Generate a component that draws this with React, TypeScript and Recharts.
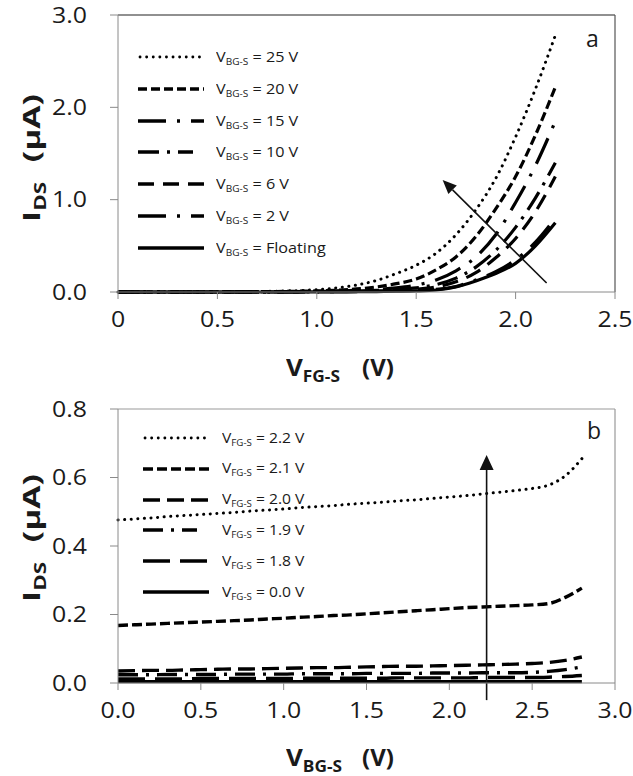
import { Line, LineChart, ReferenceLine, XAxis, YAxis } from "recharts"

// panel a: I_DS vs V_FG-S for several back-gate biases
const vfg = [0, 0.1, 0.2, 0.3, 0.4, 0.5, 0.6, 0.7, 0.8, 0.9, 1.0, 1.1, 1.2, 1.3, 1.4, 1.5, 1.6, 1.7, 1.8, 1.9, 2.0, 2.1, 2.2]
const bg25 = [0, 0, 0, 0, 0.001, 0.002, 0.003, 0.005, 0.009, 0.015, 0.025, 0.045, 0.075, 0.125, 0.2, 0.29, 0.42, 0.62, 0.89, 1.23, 1.68, 2.2, 2.78]
const bg20 = [0, 0, 0, 0, 0, 0.001, 0.002, 0.003, 0.005, 0.008, 0.012, 0.02, 0.033, 0.055, 0.09, 0.14, 0.24, 0.38, 0.6, 0.9, 1.25, 1.7, 2.22]
const bg15 = [0, 0, 0, 0, 0, 0, 0.001, 0.002, 0.003, 0.005, 0.008, 0.012, 0.018, 0.028, 0.045, 0.075, 0.13, 0.23, 0.38, 0.62, 0.97, 1.37, 1.85]
const bg10 = [0, 0, 0, 0, 0, 0, 0, 0.001, 0.002, 0.003, 0.005, 0.008, 0.012, 0.018, 0.028, 0.045, 0.08, 0.15, 0.27, 0.45, 0.7, 1.02, 1.4]
const bg6 = [0, 0, 0, 0, 0, 0, 0, 0, 0.001, 0.002, 0.003, 0.005, 0.008, 0.012, 0.018, 0.03, 0.055, 0.11, 0.21, 0.37, 0.58, 0.87, 1.25]
const bg2 = [0, 0, 0, 0, 0, 0, 0, 0, 0, 0.001, 0.002, 0.003, 0.005, 0.008, 0.012, 0.018, 0.028, 0.06, 0.13, 0.22, 0.35, 0.54, 0.8]
const bgFloat = [0, 0, 0, 0, 0, 0, 0, 0, 0, 0, 0.001, 0.002, 0.003, 0.005, 0.008, 0.012, 0.022, 0.055, 0.12, 0.2, 0.31, 0.5, 0.75]
const aLabels = ["25 V", "20 V", "15 V", "10 V", "6 V", "2 V", "Floating"]
const aXTicks = [0, 0.5, 1, 1.5, 2, 2.5]
const aYTicks = [0, 1, 2, 3]

// panel b: I_DS vs V_BG-S for several front-gate biases
const vbg = [0, 0.1, 0.2, 0.3, 0.4, 0.5, 0.6, 0.7, 0.8, 0.9, 1.0, 1.1, 1.2, 1.3, 1.4, 1.5, 1.6, 1.7, 1.8, 1.9, 2.0, 2.1, 2.2, 2.3, 2.4, 2.5, 2.6, 2.7, 2.8]
const fg22 = [0.476, 0.479, 0.482, 0.486, 0.489, 0.492, 0.495, 0.498, 0.502, 0.505, 0.508, 0.512, 0.515, 0.518, 0.522, 0.525, 0.528, 0.532, 0.535, 0.539, 0.543, 0.547, 0.552, 0.557, 0.562, 0.568, 0.578, 0.605, 0.655]
const fg21 = [0.168, 0.17, 0.172, 0.174, 0.176, 0.178, 0.18, 0.182, 0.184, 0.187, 0.189, 0.192, 0.194, 0.197, 0.199, 0.202, 0.205, 0.208, 0.211, 0.214, 0.217, 0.22, 0.222, 0.224, 0.226, 0.228, 0.232, 0.25, 0.277]
const fg20 = [0.035, 0.036, 0.037, 0.037, 0.038, 0.039, 0.04, 0.041, 0.041, 0.042, 0.043, 0.044, 0.045, 0.045, 0.046, 0.047, 0.048, 0.049, 0.049, 0.05, 0.051, 0.052, 0.053, 0.054, 0.055, 0.057, 0.06, 0.066, 0.076]
const fg19 = [0.024, 0.024, 0.024, 0.025, 0.025, 0.025, 0.025, 0.026, 0.026, 0.026, 0.026, 0.027, 0.027, 0.027, 0.027, 0.028, 0.028, 0.028, 0.028, 0.029, 0.029, 0.029, 0.03, 0.03, 0.03, 0.031, 0.034, 0.039, 0.047]
const fg18 = [0.012, 0.012, 0.012, 0.012, 0.012, 0.013, 0.013, 0.013, 0.013, 0.013, 0.013, 0.014, 0.014, 0.014, 0.014, 0.014, 0.014, 0.015, 0.015, 0.015, 0.015, 0.015, 0.016, 0.016, 0.016, 0.016, 0.017, 0.019, 0.022]
const fg00 = [0.004, 0.004, 0.004, 0.004, 0.004, 0.004, 0.004, 0.004, 0.004, 0.004, 0.004, 0.004, 0.004, 0.004, 0.004, 0.004, 0.004, 0.004, 0.004, 0.004, 0.004, 0.004, 0.004, 0.004, 0.004, 0.004, 0.004, 0.004, 0.004]
const bLabels = ["2.2 V", "2.1 V", "2.0 V", "1.9 V", "1.8 V", "0.0 V"]
const bXTicks = [0, 0.5, 1, 1.5, 2, 2.5, 3]
const bYTicks = [0, 0.2, 0.4, 0.6, 0.8]

const dataA = vfg.map((x, i) => ({
  x, s0: bg25[i], s1: bg20[i], s2: bg15[i], s3: bg10[i], s4: bg6[i], s5: bg2[i], s6: bgFloat[i],
}))
const dataB = vbg.map((x, i) => ({
  x, s0: fg22[i], s1: fg21[i], s2: fg20[i], s3: fg19[i], s4: fg18[i], s5: fg00[i],
}))

// line styles
const DOT = "0.1 6.5"
const aDash = [DOT, "9 4", "28 11 3 11", "21 8 3 8", "16 9", "28 11 3 11", undefined]
const bDash = [DOT, "10 4", "17 7", "20 8 3 8", "27 10", undefined]
const aSampleW = [66, 66, 66, 55, 66, 66, 66]

const FONT = "'Open Sans', 'Noto Sans', sans-serif"
const INK = "#1a1a1a"
const AXIS = "#8a8a8a"

function Arrow(props: any) {
  const { x1, y1, x2, y2, headLen = 14, headHalf = 6 } = props
  const ang = Math.atan2(y2 - y1, x2 - x1)
  const c = Math.cos(ang)
  const s = Math.sin(ang)
  const bx = x2 - headLen * c
  const by = y2 - headLen * s
  const pts = [
    [x2, y2],
    [bx + headHalf * s, by - headHalf * c],
    [bx - headHalf * s, by + headHalf * c],
  ]
  return (
    <g>
      <line x1={x1} y1={y1} x2={bx} y2={by} stroke="#111" strokeWidth={1.6} />
      <polygon points={pts.map((p) => p.join(",")).join(" ")} fill="#111" />
    </g>
  )
}

// tick text, widened a little like the reference's Calibri
function Tick({ x, y, payload, anchor, fmt }: any) {
  const label = fmt(payload.value)
  return (
    <g transform={`translate(${x},${y})`}>
      <text
        transform="scale(1.13,1)"
        textAnchor={anchor}
        dy={anchor === "middle" ? "0.71em" : "0.355em"}
        fill={INK}
        fontSize={22}
        fontFamily={FONT}
      >
        {label}
      </text>
    </g>
  )
}

const fmt1 = (v: number) => v.toFixed(1)
const fmtA = (v: number) => (v === 0 ? "0" : v.toFixed(1))

function Sample({ dash, width }: { dash?: string; width: number }) {
  return (
    <svg width={width} height={10} style={{ display: "block" }}>
      <line
        x1={dash === DOT ? 2 : 0}
        y1={5}
        x2={width}
        y2={5}
        stroke="#000"
        strokeWidth={dash === DOT ? 2.8 : 3.4}
        strokeDasharray={dash}
        strokeLinecap={dash === DOT ? "round" : "butt"}
      />
    </svg>
  )
}

function LegendBlock({
  left, top, step, labels, dashes, widths, sub, textOffset, fontSize,
}: {
  left: number; top: number; step: number; labels: string[]; dashes: (string | undefined)[]
  widths: number[]; sub: string; textOffset: number; fontSize: number
}) {
  return (
    <div style={{ position: "absolute", left, top, fontFamily: FONT, color: INK }}>
      {labels.map((lab, i) => (
        <div key={lab} style={{ position: "absolute", top: i * step - 12, left: 0, height: 24, display: "flex", alignItems: "center", whiteSpace: "nowrap" }}>
          <div style={{ width: textOffset }}>
            <Sample dash={dashes[i]} width={widths[i]} />
          </div>
          <span style={{ fontSize, display: "inline-block", transform: "scaleX(1.08)", transformOrigin: "left center" }}>
            V<sub style={{ fontSize: fontSize * 0.62, verticalAlign: "-3px" }}>{sub}</sub> = {lab}
          </span>
        </div>
      ))}
    </div>
  )
}

function XTitle({ left, top, sub }: { left: number; top: number; sub: string }) {
  return (
    <div style={{ position: "absolute", left, top, fontFamily: FONT, fontWeight: 700, fontSize: 24, color: INK, whiteSpace: "nowrap" }}>
      <span style={{ display: "inline-block", transform: "scaleX(1.08)", transformOrigin: "left center" }}>
        V<sub style={{ fontSize: 16, verticalAlign: "-6px" }}>{sub}</sub>
      </span>
      <span style={{ position: "absolute", left: 76 }}>(V)</span>
    </div>
  )
}

function YTitle({ cx, cy }: { cx: number; cy: number }) {
  return (
    <div style={{ position: "absolute", left: cx, top: cy, width: 0, height: 0 }}>
      <div
        style={{
          position: "absolute", left: 0, top: 0, transform: "translate(-50%, -50%) rotate(-90deg) scaleX(1.4)",
          fontFamily: FONT, fontWeight: 700, fontSize: 24, color: INK, whiteSpace: "nowrap",
        }}
      >
        I<sub style={{ fontSize: 16, verticalAlign: "-6px" }}>DS</sub>
        <span style={{ marginLeft: 14 }}>(µA)</span>
      </div>
    </div>
  )
}

export default function App() {
  return (
    <div style={{ position: "absolute", left: 0, top: 0, width: 633, height: 776, background: "#fff", overflow: "hidden" }}>
      <div style={{ position: "absolute", left: 0, top: 0 }}>
        <LineChart width={633} height={345} data={dataA} margin={{ top: 15, right: 18, left: 48, bottom: 13 }}>
          <XAxis
            dataKey="x"
            type="number"
            domain={[0, 2.5]}
            ticks={aXTicks}
            tick={<Tick anchor="middle" fmt={fmtA} />}
            stroke={AXIS}
            tickLine={{ stroke: AXIS }}
            tickSize={7}
            tickMargin={12}
            height={40}
            interval={0}
          />
          <YAxis
            type="number"
            domain={[0, 3]}
            ticks={aYTicks}
            tick={<Tick anchor="end" fmt={fmt1} />}
            stroke={AXIS}
            tickLine={{ stroke: AXIS }}
            tickSize={8}
            tickMargin={23}
            width={70}
            interval={0}
          />
          <ReferenceLine y={3} stroke="#222" strokeWidth={1.2} />
          <ReferenceLine x={2.5} stroke="#555" strokeWidth={1.2} />
          {aDash.map((d, i) => (
            <Line
              key={i}
              dataKey={`s${i}`}
              type="monotone"
              stroke="#000"
              strokeWidth={d === DOT ? 3 : 3.2}
              strokeDasharray={d}
              strokeLinecap={d === DOT ? "round" : "butt"}
              dot={false}
              isAnimationActive={false}
            />
          ))}
          <ReferenceLine
            segment={[{ x: 2.156, y: 0.097 }, { x: 1.633, y: 1.213 }]}
            ifOverflow="visible"
            shape={(p: any) => <Arrow {...p} headLen={14} headHalf={6} />}
          />
        </LineChart>
      </div>
      <div style={{ position: "absolute", left: 0, top: 390 }}>
        <LineChart width={633} height={345} data={dataB} margin={{ top: 19, right: 18, left: 48, bottom: 12 }}>
          <XAxis
            dataKey="x"
            type="number"
            domain={[0, 3]}
            ticks={bXTicks}
            tick={<Tick anchor="middle" fmt={fmt1} />}
            stroke={AXIS}
            tickLine={{ stroke: AXIS }}
            tickSize={7}
            tickMargin={12}
            height={40}
            interval={0}
          />
          <YAxis
            type="number"
            domain={[0, 0.8]}
            ticks={bYTicks}
            tick={<Tick anchor="end" fmt={fmt1} />}
            stroke={AXIS}
            tickLine={{ stroke: AXIS }}
            tickSize={8}
            tickMargin={23}
            width={70}
            interval={0}
          />
          <ReferenceLine y={0.8} stroke="#999" strokeWidth={1.2} />
          <ReferenceLine x={3} stroke="#999" strokeWidth={1.2} />
          {bDash.map((d, i) => (
            <Line
              key={i}
              dataKey={`s${i}`}
              type="monotone"
              stroke="#000"
              strokeWidth={d === DOT ? 3 : 3.4}
              strokeDasharray={d}
              strokeLinecap={d === DOT ? "round" : "butt"}
              dot={false}
              isAnimationActive={false}
            />
          ))}
          <ReferenceLine
            segment={[{ x: 2.225, y: -0.05 }, { x: 2.225, y: 0.666 }]}
            ifOverflow="visible"
            shape={(p: any) => <Arrow {...p} headLen={15} headHalf={7} />}
          />
        </LineChart>
      </div>

      <LegendBlock left={138} top={57} step={31.8} labels={aLabels} dashes={aDash} widths={aSampleW} sub="BG-S" textOffset={78} fontSize={15} />
      <LegendBlock left={143} top={438} step={30.8} labels={bLabels} dashes={bDash} widths={[66, 66, 66, 54, 66, 66]} sub="FG-S" textOffset={79} fontSize={14.5} />

      <div style={{ position: "absolute", left: 586, top: 22, fontFamily: FONT, fontSize: 23, color: INK }}>a</div>
      <div style={{ position: "absolute", left: 587, top: 414, fontFamily: FONT, fontSize: 23, color: INK }}>b</div>

      <XTitle left={286} top={350} sub="FG-S" />
      <XTitle left={286} top={740} sub="BG-S" />
      <YTitle cx={32} cy={158} />
      <YTitle cx={32} cy={538} />
    </div>
  )
}
